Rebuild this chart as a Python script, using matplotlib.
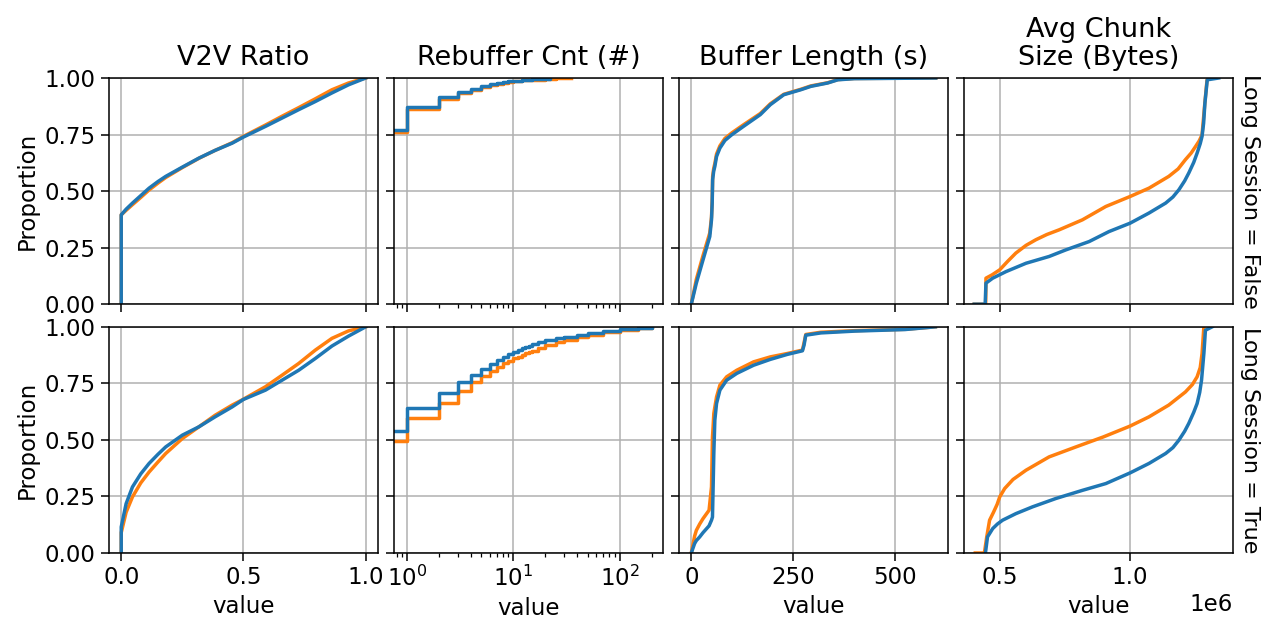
import matplotlib
matplotlib.use("Agg")
import matplotlib.pyplot as plt
import numpy as np

# ---------------- data (ECDF breakpoints) ----------------
col_titles = ["V2V Ratio", "Rebuffer Cnt (#)", "Buffer Length (s)", "Avg Chunk\nSize (Bytes)"]
row_titles = ["Long Session = False", "Long Session = True"]
y_ticks = [0.0, 0.25, 0.5, 0.75, 1.0]

# V2V Ratio
v2v_x = [0.0, 0.0, 0.02, 0.046, 0.08, 0.114, 0.15, 0.182, 0.25, 0.318, 0.384, 0.454, 0.5, 0.59, 0.658, 0.726, 0.794, 0.862, 0.93, 1.0]
v2v_f_orange = [0.0, 0.395, 0.415, 0.44, 0.472, 0.505, 0.535, 0.56, 0.604, 0.645, 0.68, 0.714, 0.742, 0.792, 0.831, 0.869, 0.908, 0.948, 0.978, 1.0]
v2v_f_blue = [0.0, 0.395, 0.42, 0.447, 0.48, 0.513, 0.542, 0.565, 0.606, 0.646, 0.68, 0.712, 0.739, 0.786, 0.823, 0.86, 0.896, 0.934, 0.97, 1.0]
v2v_t_orange = [0.0, 0.09, 0.18, 0.248, 0.31, 0.358, 0.402, 0.44, 0.506, 0.558, 0.609, 0.654, 0.68, 0.735, 0.786, 0.838, 0.897, 0.949, 0.982, 1.0]
v2v_t_blue = [0.0, 0.115, 0.218, 0.292, 0.35, 0.396, 0.436, 0.469, 0.521, 0.558, 0.602, 0.646, 0.679, 0.72, 0.764, 0.808, 0.86, 0.915, 0.959, 1.0]

# Rebuffer count (log axis, 0 values fall off the left edge)
reb_x_f_orange = [0, 1, 2, 3, 4, 5, 6, 7, 8, 9, 10, 12, 15, 20, 25, 35]
reb_f_orange = [0.762, 0.861, 0.907, 0.933, 0.948, 0.96, 0.969, 0.975, 0.979, 0.983, 0.986, 0.99, 0.993, 0.996, 0.998, 1.0]
reb_x_f_blue = [0, 1, 2, 3, 4, 5, 6, 7, 8, 9, 10, 12, 15, 22]
reb_f_blue = [0.771, 0.87, 0.914, 0.938, 0.953, 0.965, 0.973, 0.978, 0.982, 0.985, 0.988, 0.992, 0.996, 1.0]
reb_x_t = [0, 1, 2, 3, 4, 5, 6, 7, 8, 9, 10, 11, 12, 13, 14, 15, 17, 20, 25, 30, 40, 50, 70, 100, 150, 200]
reb_t_orange = [0.496, 0.595, 0.665, 0.717, 0.755, 0.783, 0.805, 0.823, 0.838, 0.85, 0.86, 0.868, 0.876, 0.883, 0.889, 0.895, 0.905, 0.919, 0.932, 0.941, 0.953, 0.963, 0.975, 0.985, 0.994, 1.0]
reb_t_blue = [0.538, 0.642, 0.708, 0.754, 0.789, 0.814, 0.835, 0.853, 0.867, 0.879, 0.889, 0.897, 0.905, 0.911, 0.917, 0.922, 0.931, 0.941, 0.95, 0.956, 0.966, 0.973, 0.981, 0.989, 0.995, 1.0]

# Buffer length (s)
buf_x_f = [0, 12.4, 28.8, 45.4, 49.6, 51.3, 52.4, 55, 57.8, 62, 70.2, 82.6, 99.2, 128, 169.4, 194, 227, 268.6, 293.4, 334.8, 359.6, 400, 600]
buf_f_orange = [0.0, 0.11, 0.215, 0.315, 0.385, 0.46, 0.565, 0.6, 0.622, 0.664, 0.7, 0.733, 0.757, 0.793, 0.843, 0.886, 0.928, 0.95, 0.965, 0.979, 0.993, 0.998, 1.0]
buf_f_blue = [0.0, 0.093, 0.196, 0.299, 0.373, 0.447, 0.55, 0.588, 0.609, 0.653, 0.69, 0.724, 0.749, 0.786, 0.838, 0.882, 0.926, 0.948, 0.963, 0.978, 0.992, 0.997, 1.0]
buf_x_t = [0, 8.2, 12.4, 20.6, 28.8, 43.6, 49.6, 52, 53.6, 55.3, 57.8, 62, 70.2, 86.8, 111.6, 152.8, 194, 235.6, 272.8, 276.8, 281, 318, 400.8, 525, 599]
buf_t_orange = [0.0, 0.075, 0.1, 0.128, 0.152, 0.189, 0.292, 0.513, 0.56, 0.617, 0.645, 0.69, 0.742, 0.779, 0.808, 0.845, 0.867, 0.882, 0.897, 0.93, 0.966, 0.976, 0.983, 0.989, 1.0]
buf_t_blue = [0.0, 0.042, 0.055, 0.071, 0.09, 0.12, 0.145, 0.159, 0.292, 0.44, 0.587, 0.661, 0.72, 0.764, 0.794, 0.83, 0.856, 0.878, 0.894, 0.919, 0.963, 0.973, 0.981, 0.988, 1.0]

# Avg chunk size (bytes)
chk_x_f_orange = [401000, 445000, 446000, 470000, 499000, 530000, 561000, 600000, 638000, 680000, 728000, 817000, 907000, 1000000, 1073000, 1149000, 1185000, 1213000, 1235000, 1252000, 1266000, 1277000, 1287000, 1296000, 1300000]
chk_f_orange = [0.0, 0.0, 0.115, 0.13, 0.152, 0.19, 0.226, 0.26, 0.285, 0.308, 0.329, 0.373, 0.432, 0.476, 0.513, 0.565, 0.598, 0.639, 0.668, 0.697, 0.722, 0.749, 0.88, 0.99, 1.0]
chk_x_f_blue = [401000, 443000, 446000, 472000, 523000, 600000, 689000, 753000, 843000, 919000, 1000000, 1073000, 1137000, 1165000, 1188000, 1210000, 1226000, 1245000, 1258000, 1270000, 1277000, 1283000, 1288000, 1297000, 1341000]
chk_f_blue = [0.0, 0.0, 0.093, 0.115, 0.144, 0.181, 0.211, 0.24, 0.277, 0.321, 0.358, 0.403, 0.447, 0.474, 0.506, 0.545, 0.58, 0.627, 0.668, 0.71, 0.742, 0.8, 0.889, 0.992, 1.0]
chk_x_t_orange = [405000, 440000, 449000, 460000, 475000, 489000, 499000, 518000, 550000, 600000, 689000, 792000, 897000, 1000000, 1073000, 1149000, 1213000, 1240000, 1258000, 1270000, 1277000, 1284000]
chk_t_orange = [0.0, 0.0, 0.071, 0.145, 0.18, 0.215, 0.248, 0.285, 0.325, 0.366, 0.425, 0.469, 0.513, 0.561, 0.602, 0.654, 0.712, 0.745, 0.779, 0.82, 0.882, 1.0]
chk_x_t_blue = [444000, 452000, 472000, 490000, 510000, 561000, 625000, 715000, 817000, 907000, 1000000, 1073000, 1137000, 1165000, 1188000, 1210000, 1226000, 1245000, 1258000, 1268000, 1275000, 1284000, 1290000, 1316000]
chk_t_blue = [0.0, 0.071, 0.108, 0.128, 0.145, 0.174, 0.204, 0.241, 0.277, 0.307, 0.354, 0.396, 0.44, 0.466, 0.499, 0.538, 0.573, 0.622, 0.661, 0.71, 0.764, 0.882, 0.985, 1.0]

ORANGE = "#ff7f0e"
BLUE = "#1f77b4"

# panels[row][col] = list of (x, y, color, drawstyle)
panels = [
    [
        [(v2v_x, v2v_f_orange, ORANGE, "default"), (v2v_x, v2v_f_blue, BLUE, "default")],
        [(reb_x_f_orange, reb_f_orange, ORANGE, "steps-post"), (reb_x_f_blue, reb_f_blue, BLUE, "steps-post")],
        [(buf_x_f, buf_f_orange, ORANGE, "default"), (buf_x_f, buf_f_blue, BLUE, "default")],
        [(chk_x_f_orange, chk_f_orange, ORANGE, "default"), (chk_x_f_blue, chk_f_blue, BLUE, "default")],
    ],
    [
        [(v2v_x, v2v_t_orange, ORANGE, "default"), (v2v_x, v2v_t_blue, BLUE, "default")],
        [(reb_x_t, reb_t_orange, ORANGE, "steps-post"), (reb_x_t, reb_t_blue, BLUE, "steps-post")],
        [(buf_x_t, buf_t_orange, ORANGE, "default"), (buf_x_t, buf_t_blue, BLUE, "default")],
        [(chk_x_t_orange, chk_t_orange, ORANGE, "default"), (chk_x_t_blue, chk_t_blue, BLUE, "default")],
    ],
]

xlims = [(-0.05, 1.05), (0.755, 255), (-30, 630), (362000, 1396000)]

# ---------------- figure ----------------
W, H, DPI = 1261, 620, 100
TICK_FS = 16.5
LABEL_FS = 16.5
TITLE_FS = 19.5
ROW_FS = 16

plt.rcParams["font.family"] = ["DejaVu Sans"]
fig, axes = plt.subplots(2, 4, figsize=(W / DPI, H / DPI), dpi=DPI, sharex="col", sharey=True)
fig.subplots_adjust(left=109 / W, right=1233 / W, top=1 - 78 / H, bottom=1 - 553 / H,
                    wspace=0.06, hspace=0.10)

for r in range(2):
    for c in range(4):
        ax = axes[r][c]
        if c == 1:
            ax.set_xscale("log", nonpositive="clip")
        ax.grid(True, color="#b0b0b0", linewidth=1.1, zorder=0)
        ax.set_axisbelow(True)
        for (x, y, col, ds) in panels[r][c]:
            ax.plot(x, y, color=col, linewidth=2.5, drawstyle=ds, solid_joinstyle="round")
        ax.set_xlim(*xlims[c])
        ax.set_ylim(0, 1)
        ax.set_yticks(y_ticks)
        ax.tick_params(labelsize=TICK_FS, length=5.5, width=1.1, pad=4)
        ax.tick_params(which="minor", length=3, width=0.9)
        for s in ax.spines.values():
            s.set_linewidth(1.1)
        if r == 0:
            ax.set_title(col_titles[c], fontsize=TITLE_FS, pad=9.5, linespacing=1.1)
        if r == 1:
            ax.set_xlabel("value", fontsize=LABEL_FS, labelpad=4)
        if c == 0:
            ax.set_ylabel("Proportion", fontsize=LABEL_FS, labelpad=4)
        if c == 3:
            ax.text(1.025, 0.5, row_titles[r], rotation=270, va="center", ha="left",
                    transform=ax.transAxes, fontsize=ROW_FS)

axes[1][0].set_xticks([0.0, 0.5, 1.0])
axes[1][2].set_xticks([0, 250, 500])
axes[1][3].set_xticks([500000, 1000000])
axes[1][3].xaxis.get_offset_text().set_fontsize(TICK_FS)

fig.savefig("out.png", dpi=DPI)
